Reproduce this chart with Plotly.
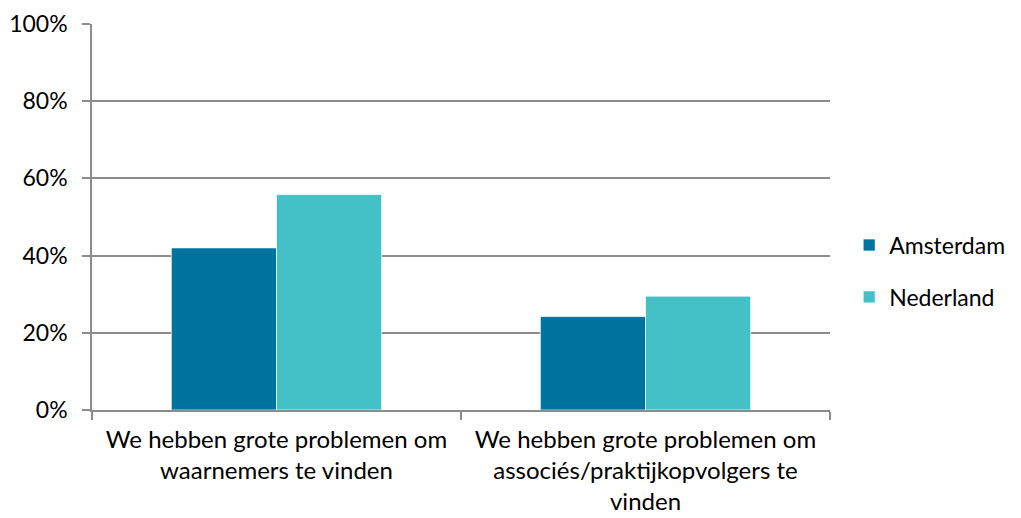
import plotly.graph_objects as go

categories = [
    "We hebben grote problemen om<br>waarnemers te vinden",
    "We hebben grote problemen om<br>associés/praktijkopvolgers te<br>vinden",
]
amsterdam = [42.0, 24.2]
nederland = [55.8, 29.5]
y_ticks = [0, 20, 40, 60, 80, 100]
y_labels = [f"{v}%" for v in y_ticks]

FONT = "Lato"
GRID = "#8c8c8c"

fig = go.Figure()
fig.add_trace(go.Bar(
    name="Amsterdam", x=categories, y=amsterdam,
    marker=dict(color="#00739E", line=dict(color="rgba(255,255,255,0.7)", width=1)),
    legendgroup="a",
))
fig.add_trace(go.Bar(
    name="Nederland", x=categories, y=nederland,
    marker=dict(color="#44C1C6", line=dict(color="rgba(255,255,255,0.7)", width=1)),
    legendgroup="b",
))

fig.update_layout(
    width=1021, height=518,
    margin=dict(l=84, r=199, t=16, b=116, autoexpand=False),
    paper_bgcolor="white", plot_bgcolor="white",
    barmode="group", bargap=0.43, bargroupgap=0,
    font=dict(family=FONT, size=24, color="#000000"),
    showlegend=True,
    legend=dict(
        x=1.026, xanchor="left", y=0.36, yanchor="middle",
        font=dict(family=FONT, size=23, color="#000000"),
        traceorder="grouped", tracegroupgap=19,
        bgcolor="rgba(0,0,0,0)",
    ),
    xaxis=dict(
        type="category", showgrid=False, automargin=False, tickangle=0,
        showline=True, linecolor=GRID, linewidth=1.5,
        ticks="outside", tickson="boundaries", ticklen=8, tickcolor=GRID, tickwidth=1.5,
        tickfont=dict(family=FONT, size=24, color="#000000"),
        ticklabelstandoff=7, ticklabeloverflow="allow",
    ),
    yaxis=dict(
        range=[0, 100], tickmode="array", tickvals=y_ticks, ticktext=y_labels,
        automargin=False, ticklabeloverflow="allow",
        showgrid=True, gridcolor=GRID, gridwidth=1.5,
        showline=True, linecolor=GRID, linewidth=1.5,
        ticks="outside", ticklen=8, tickcolor=GRID, tickwidth=1.5,
        zeroline=False, ticklabelstandoff=10,
        tickfont=dict(family=FONT, size=23, color="#000000"),
    ),
)

fig.write_html("out.html")
